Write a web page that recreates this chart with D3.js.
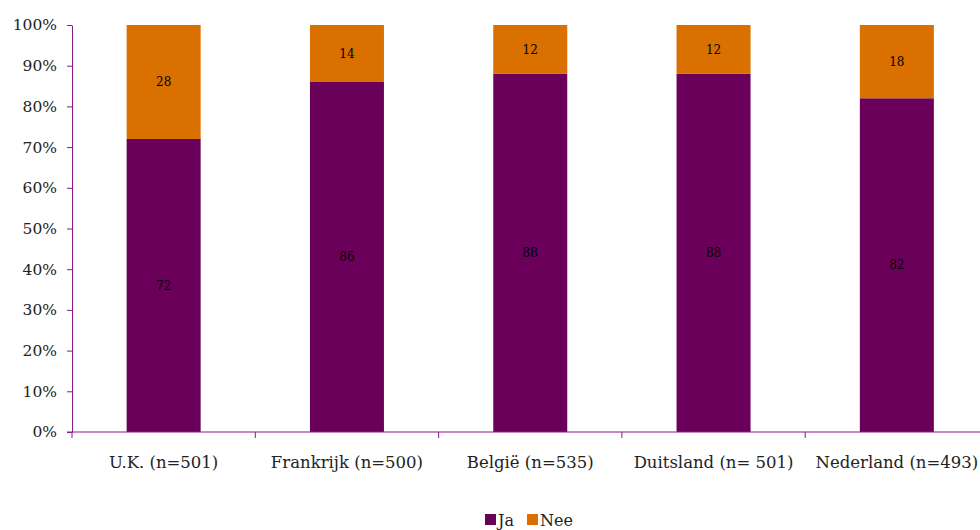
<!DOCTYPE html>
<html>
<head>
<meta charset="utf-8">
<script src="https://cdn.jsdelivr.net/npm/d3@7"></script>
<style>
  body { margin: 0; background: #fff; }
  svg text { font-family: "DejaVu Serif", serif !important; }
</style>
</head>
<body>
<svg id="chart" width="980" height="530"></svg>
<script>
// Survey answers per country, percentages
const categories = ["U.K. (n=501)", "Frankrijk (n=500)", "België (n=535)", "Duitsland (n= 501)", "Nederland (n=493)"];
const jaValues  = [72, 86, 88, 88, 82];
const neeValues = [28, 14, 12, 12, 18];
const seriesNames = ["Ja", "Nee"];
const seriesColors = ["#6b005b", "#d97000"];
const yTicks = [0, 10, 20, 30, 40, 50, 60, 70, 80, 90, 100];

const svg = d3.select("#chart");
const axisColor = "#8b1a89";
const plotLeft = 72, plotRight = 988.5, plotTop = 25, plotBottom = 432;

const x = d3.scaleBand().domain(categories).range([plotLeft, plotRight]).paddingInner(0).paddingOuter(0);
const y = d3.scaleLinear().domain([0, 100]).range([plotBottom, plotTop]);

const rows = categories.map((c, i) => ({ cat: c, Ja: jaValues[i], Nee: neeValues[i] }));
const stacked = d3.stack().keys(seriesNames)(rows);

const barW = 74;

// stacked bars
const layer = svg.append("g").selectAll("g").data(stacked).join("g")
  .attr("fill", (d, i) => seriesColors[i]);
layer.selectAll("rect").data(d => d).join("rect")
  .attr("x", d => x(d.data.cat) + x.bandwidth() / 2 - barW / 2)
  .attr("width", barW)
  .attr("y", d => y(d[1]))
  .attr("height", d => y(d[0]) - y(d[1]));

// value labels inside each segment
layer.selectAll("text").data(d => d.map(v => Object.assign({ key: d.key }, v))).join("text")
  .attr("x", d => x(d.data.cat) + x.bandwidth() / 2)
  .attr("y", d => (y(d[0]) + y(d[1])) / 2)
  .attr("dy", "0.35em")
  .attr("text-anchor", "middle")
  .attr("fill", "#000")
  .attr("font-size", 12)
  .text(d => d.data[d.key]);

// y axis
const yAxis = svg.append("g").attr("transform", `translate(${plotLeft},0)`)
  .call(d3.axisLeft(y).tickValues(yTicks).tickSize(5).tickSizeOuter(0).tickFormat(d => d + "%"));
yAxis.select(".domain").attr("stroke", axisColor);
yAxis.selectAll(".tick line").attr("stroke", axisColor);
yAxis.selectAll(".tick text").attr("font-size", 15.5).attr("fill", "#222").attr("x", -15);

// x axis
const xAxis = svg.append("g").attr("transform", `translate(0,${plotBottom})`)
  .call(d3.axisBottom(x).tickSize(0).tickSizeOuter(0));
xAxis.select(".domain").attr("stroke", axisColor).attr("d", `M${plotLeft - 5},0H${plotRight}`);
xAxis.selectAll(".tick text").attr("font-size", 16.5).attr("fill", "#222").attr("y", 24);
// category separators
xAxis.selectAll(".sep").data(categories).join("line")
  .attr("class", "sep")
  .attr("x1", d => x(d)).attr("x2", d => x(d))
  .attr("y1", 0).attr("y2", 6)
  .attr("stroke", axisColor);

// legend
const legend = svg.append("g").attr("transform", "translate(485,512)");
const items = [{ name: seriesNames[0], color: seriesColors[0], dx: 0 }, { name: seriesNames[1], color: seriesColors[1], dx: 42 }];
items.forEach(it => {
  legend.append("rect").attr("x", it.dx).attr("y", 2).attr("width", 11).attr("height", 11).attr("fill", it.color);
  legend.append("text").attr("x", it.dx + 13).attr("y", 13.5).attr("font-size", 16).attr("fill", "#222").text(it.name);
});
</script>
</body>
</html>
